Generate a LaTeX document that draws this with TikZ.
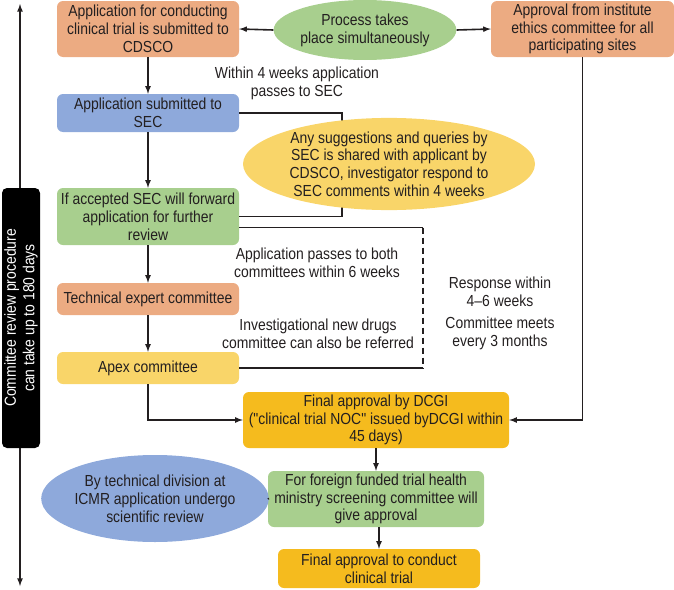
\documentclass[tikz,border=0pt]{standalone}
\usepackage{fontspec}
\setmainfont{Liberation Sans}[FakeStretch=0.87]
\newfontfamily\plainquote{Liberation Sans}[FakeStretch=0.87]
\usepackage{xcolor}
\usepackage{tikz}
\usetikzlibrary{positioning,shapes.geometric}

\definecolor{peach}{RGB}{236,171,130}
\definecolor{leaf}{RGB}{168,207,142}
\definecolor{sky}{RGB}{142,169,219}
\definecolor{sunny}{RGB}{249,213,105}
\definecolor{gold}{RGB}{245,187,30}
\definecolor{ink}{RGB}{35,31,32}
\newcommand\chartfont{\fontsize{16}{17.8}\selectfont}
\newcommand\dq{{\plainquote"}}

\begin{document}
\begin{tikzpicture}[
    x=1pt, y=-1pt, >=latex,
    font=\chartfont, text=ink,
    box/.style={rectangle, rounded corners=6pt, align=center,
                inner sep=2pt, minimum width=182pt},
    oval/.style={ellipse, align=center, inner sep=0pt},
    note/.style={align=center},
    link/.style={draw=ink, line width=1.6pt}
]
    \useasboundingbox (0,0) rectangle (674,589);

    \coordinate (spantop) at (20,4);
    \coordinate (spanbot) at (20,586);
    \draw[link, <->] (spantop) -- (spanbot);
    \node[fill=black, rounded corners=5pt, rotate=90, align=center,
          minimum width=260pt, minimum height=38pt, inner sep=1pt,
          text=white, font=\fontsize{16}{18.5}\selectfont] (span) at (21,318)
        {Committee review procedure\\can take up to 180 days};

    \node[box, fill=peach, minimum height=56pt] (cdsco) at (148,29)
        {Application for conducting\\clinical trial is submitted to\\CDSCO};
    \node[oval, fill=leaf, minimum width=170pt, minimum height=60pt] (sim) at (365,30)
        {Process takes\\place simultaneously};
    \node[box, fill=peach, minimum width=183pt, minimum height=56pt] (ethics) at (582.5,29)
        {Approval from institute\\ethics committee for all\\participating sites};

    \node[box, fill=sky, minimum height=38pt] (sec) at (148,113)
        {Application submitted to\\SEC};
    \node[box, fill=leaf, minimum height=57pt] (accepted) at (148,216.5)
        {If accepted SEC will forward\\application for further\\review};
    \node[box, fill=peach, minimum height=32pt] (tech) at (148,299)
        {Technical expert committee};
    \node[box, fill=sunny, minimum height=32pt] (apex) at (148,368)
        {Apex committee};

    \node[box, fill=gold, minimum width=266pt, minimum height=56pt] (dcgi) at (376,420)
        {Final approval by DCGI\\(\dq clinical trial NOC\dq\ issued byDCGI within\\45 days)};
    \node[box, fill=leaf, minimum width=216pt, minimum height=56pt] (foreign) at (376,499)
        {For foreign funded trial health\\ministry screening committee will\\give approval};
    \node[box, fill=gold, minimum width=202pt, minimum height=39pt] (final) at (379,568.5)
        {Final approval to conduct\\clinical trial};
    \node[oval, fill=sky, minimum width=184pt, minimum height=87pt] (icmr) at (155,498.5)
        {By technical division at\\ICMR application undergo\\scientific review};

    \node[note] (within4) at (297,83)
        {Within 4 weeks application\\passes to SEC};
    \node[note] (within6) at (317,263)
        {Application passes to both\\committees within 6 weeks};
    \node[note] (referred) at (318,334)
        {Investigational new drugs\\committee can also be referred};
    \node[note] (response) at (500,292)
        {Response within\\4--6 weeks};
    \node[note] (meets) at (500,333)
        {Committee meets\\every 3 months};

    \coordinate (loop) at (342,0);
    \coordinate (refer) at (423,0);

    \draw[link, ->] (sim.west) -- (cdsco.east);
    \draw[link, ->] (sim.east) -- (ethics.west);
    \draw[link, ->] (cdsco.south) -- (sec.north);
    \draw[link] (sec.east) -- (sec.east -| loop) |- (accepted.east);
    \draw[link, ->] (sec.south) -- (accepted.north);
    \draw[link, ->] (accepted.south) -- (tech.north);
    \draw[link, ->] (tech.south) -- (apex.north);

    \draw[link] ([yshift=-11pt]accepted.east) coordinate (split)
        -- (split -| refer);
    \draw[link, dashed, dash pattern=on 6pt off 4pt] (split -| refer) -- (apex.east -| refer);
    \draw[link] (apex.east -| refer) -- (apex.east);

    \draw[link, ->] (apex.south) |- (dcgi.west);
    \draw[link, ->] (ethics.south) |- (dcgi.east);
    \draw[link, ->] (dcgi.south) -- (foreign.north);
    \draw[link] (icmr.east) -- (foreign.west);
    \draw[link, ->] (foreign.south -| final.north) -- (final.north);

    \node[oval, fill=sunny, minimum width=292pt, minimum height=92pt] (query) at (389,164)
        {Any suggestions and queries by\\SEC is shared with applicant by\\CDSCO, investigator respond to\\SEC comments within 4 weeks};
\end{tikzpicture}
\end{document}
